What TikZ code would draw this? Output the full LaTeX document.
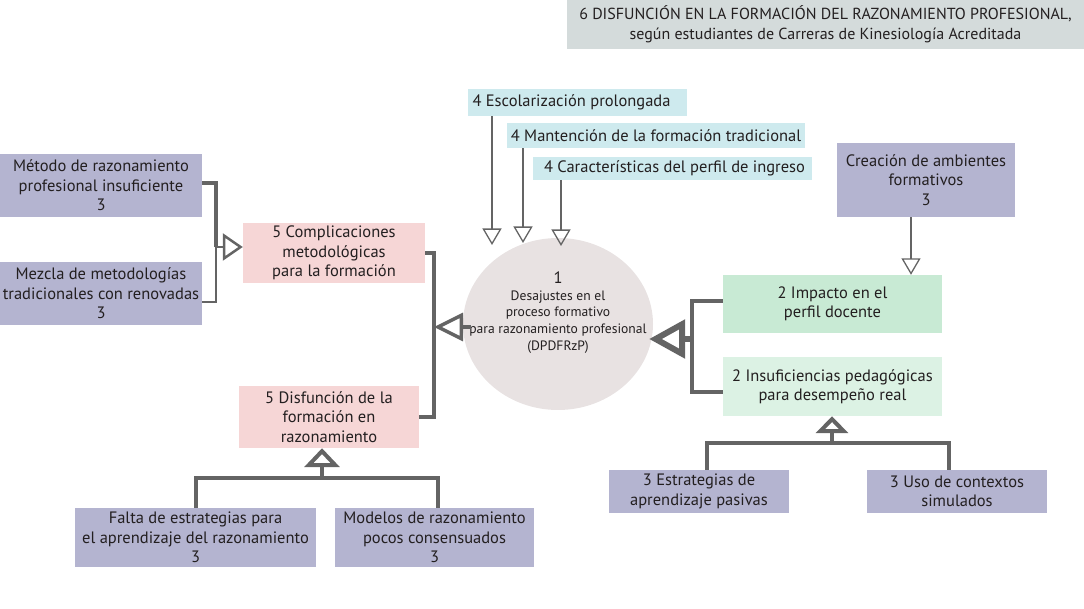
\documentclass[tikz,border=0pt]{standalone}
\usepackage{fontspec}
\setmainfont{PT Sans}
\usetikzlibrary{arrows.meta,shapes.geometric}
\definecolor{purp}{RGB}{180,180,208}
\definecolor{pinkb}{RGB}{246,214,214}
\definecolor{greenA}{RGB}{200,234,212}
\definecolor{greenB}{RGB}{220,242,228}
\definecolor{cyanb}{RGB}{206,234,238}
\definecolor{circb}{RGB}{232,226,226}
\definecolor{titleb}{RGB}{212,219,219}
\definecolor{lin}{RGB}{100,100,100}
\definecolor{txt}{RGB}{35,31,32}
\tikzset{
  box/.style={draw=none, inner sep=0pt, align=center, text=txt, font=\fontsize{16.5}{19.5}\selectfont},
  thinl/.style={draw=lin, line width=1.3pt},
  thickl/.style={draw=lin, line width=4pt},
  thinarr/.style={thinl, -{Triangle[open, length=16.5pt, width=19pt]}},
}
\begin{document}
\begin{tikzpicture}[x=1pt,y=-1pt]
\useasboundingbox (0,0) rectangle (1084,609);
% title
\node[box, fill=titleb, minimum width=517pt, minimum height=49pt, font=\fontsize{16}{20}\selectfont] (title) at (825.5,24.5)
  {6 DISFUNCIÓN EN LA FORMACIÓN DEL RAZONAMIENTO PROFESIONAL,\\según estudiantes de Carreras de Kinesiología Acreditada};
% left
\node[box, fill=purp, minimum width=202pt, minimum height=63pt] (metodo) at (101,185.5)
  {Método de razonamiento\\profesional insuficiente\\3};
\node[box, fill=purp, minimum width=202pt, minimum height=63pt] (mezcla) at (101,293.5)
  {Mezcla de metodologías\\tradicionales con renovadas\\3};
\node[box, fill=pinkb, minimum width=182pt, minimum height=60pt] (compl) at (334,253)
  {5 Complicaciones\\metodológicas\\para la formación};
\node[box, fill=pinkb, minimum width=180pt, minimum height=62pt] (disf) at (329,417)
  {5 Disfunción de la\\formación en\\razonamiento};
\node[box, fill=purp, minimum width=241pt, minimum height=59pt] (falta) at (195.5,537.5)
  {Falta de estrategias para\\el aprendizaje del razonamiento\\3};
\node[box, fill=purp, minimum width=199pt, minimum height=59pt] (modelos) at (434.5,537.5)
  {Modelos de razonamiento\\pocos consensuados\\3};
% top
\node[box, fill=cyanb, minimum width=219pt, minimum height=27pt] (esc) at (577.5,102.5)
  {4 Escolarización prolongada\hspace*{12pt}};
\node[box, fill=cyanb, minimum width=298pt, minimum height=25pt] (mant) at (656,135.5)
  {4 Mantención de la formación tradicional};
\node[box, fill=cyanb, minimum width=279pt, minimum height=23pt] (carac) at (672.5,168.5)
  {\hspace*{4pt}4 Características del perfil de ingreso};
% circle
\node[box, fill=circb, ellipse, minimum width=190pt, minimum height=172pt, font=\fontsize{13.6}{16.7}\selectfont] (circ) at (558,324)
  {\makebox[0pt][c]{\raisebox{7pt}[0pt][0pt]{\begin{tabular}{@{}c@{}}{\fontsize{16.5}{16.7}\selectfont 1}\\Desajustes en el\\proceso formativo\\para razonamiento profesional\\(DPDFRzP)\end{tabular}}}};
% right
\node[box, fill=purp, minimum width=178pt, minimum height=74pt] (creacion) at (926,180)
  {Creación de ambientes\\formativos\\3};
\node[box, fill=greenA, minimum width=219pt, minimum height=58pt] (impacto) at (832.5,304)
  {2 Impacto en el\\perfil docente};
\node[box, fill=greenB, minimum width=219pt, minimum height=59pt] (insuf) at (832.5,386.5)
  {2 Insuficiencias pedagógicas\\para desempeño real};
\node[box, fill=purp, minimum width=180pt, minimum height=43pt] (estr) at (699,491.5)
  {3 Estrategias de\\aprendizaje pasivas};
\node[box, fill=purp, minimum width=180pt, minimum height=43pt] (uso) at (957,491.5)
  {3 Uso de contextos\\simulados};
% coordinates
\coordinate (jl) at (216,247);
\coordinate (jc) at (434,327);
\coordinate (jr) at (692,339);
\coordinate (t1) at (492,245);
\coordinate (t2) at (523,243);
\coordinate (t3) at (561,246);
\coordinate (bl1) at (707,443);
\coordinate (bl2) at (949,443);
\coordinate (bla) at (832,443);
\coordinate (dl1) at (196,478);
\coordinate (dl2) at (438,478);
\coordinate (dla) at (322,478);
% left connectors
\draw[thickl] ([yshift=2.5pt]metodo.east) -| (jl);
\draw[thinl] ([yshift=-8.5pt]mezcla.east) -| (jl);
\draw[thinl] (jl) -- ([xshift=7pt]jl);
\draw[draw=lin, line width=2.5pt, -{Triangle[open, length=20pt, width=27pt]}] ([xshift=7pt]jl) -- (jl -| compl.west);
\draw[thickl] (compl.east) -| (jc) |- (disf.east);
\draw[draw=lin, line width=3.5pt, -{Triangle[open, length=29pt, width=28pt]}] ([xshift=8pt]circ.west |- jc) -- (jc);
% right connectors
\draw[thickl] ([yshift=3pt]impacto.west) -| (jr) |- ([yshift=-5.5pt]insuf.west);
\draw[draw=lin, line width=6pt, -{Triangle[open, length=36pt, width=38pt]}] (jr) -- ([xshift=-4pt]circ.east |- jr);
\draw[thinarr] ([xshift=-15pt]creacion.south) -- ([xshift=-15pt]creacion.south |- impacto.north);
% top arrows
\draw[thinarr] (esc.south -| t1) -- (t1);
\draw[thinarr] (mant.south -| t2) -- (t2);
\draw[thinarr] (carac.south -| t3) -- (t3);
% bottom right
\draw[thickl] (estr.north -| bl1) -- (bl1) -- (bl2) -- (uso.north -| bl2);
\draw[draw=lin, line width=4pt, -{Triangle[open, length=17pt, width=32pt]}] (bla) -- (bla |- insuf.south);
% bottom left
\draw[thickl] (falta.north -| dl1) -- (dl1) -- (dl2) -- (modelos.north -| dl2);
\draw[draw=lin, line width=4pt, -{Triangle[open, length=19pt, width=35pt]}] (dla) -- (dla |- disf.south);
\end{tikzpicture}
\end{document}
